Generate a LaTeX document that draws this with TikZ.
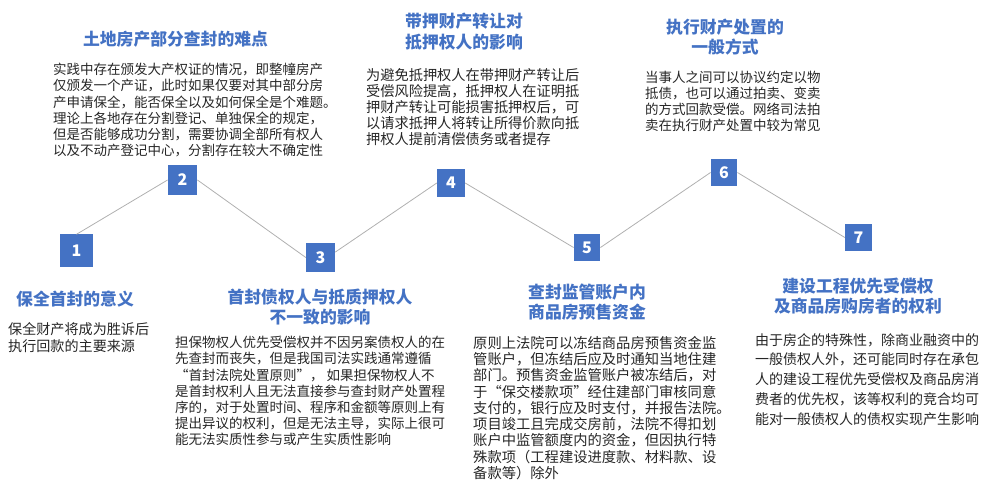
\documentclass[tikz,border=0pt]{standalone}
\usepackage{fontspec}
\newfontfamily\cjk{Noto Sans CJK SC}
\definecolor{boxblue}{HTML}{4472C4}
\definecolor{linegray}{HTML}{B0B0B0}
\definecolor{txtgray}{HTML}{262626}
\begin{document}
\begin{tikzpicture}[x=1pt,y=-1pt]
		\useasboundingbox (0,0) rectangle (990,494);
		\begin{scope}
		
		\tikzstyle{numbox}=[rectangle,
		fill=boxblue,
		text=white,
		inner sep=0pt,
		minimum size=28pt,
		font=\cjk\bfseries\fontsize{16}{16}\selectfont
		]
		\tikzstyle{title}=[align=center,
		text=boxblue,
		inner sep=0pt,
		font=\cjk\bfseries\fontsize{16.8}{20.5}\selectfont
		]
		\tikzstyle{desc}=[align=left,
		anchor=north west,
		text=txtgray,
		inner sep=0pt,
		font=\cjk\fontsize{13.5}{16.2}\selectfont
		]
		\tikzstyle{link}=[linegray, line width=0.8pt]
		
		\coordinate (p1) at (76.5, 251);
		\coordinate (p2) at (182.5, 180);
		\coordinate (p3) at (320.5, 257.5);
		\coordinate (p4) at (451, 183);
		\coordinate (p5) at (587, 247.5);
		\coordinate (p6) at (724, 172.5);
		\coordinate (p7) at (858.5, 237.5);
		
		\node[numbox, minimum size=33pt] (n1) at (p1) {1};
		\node[numbox, minimum size=29.5pt] (n2) at (p2) {2};
		\node[numbox, minimum size=29pt] (n3) at (p3) {3};
		\node[numbox] (n4) at (p4) {4};
		\node[numbox, minimum size=26.5pt] (n5) at (p5) {5};
		\node[numbox, minimum size=26.5pt] (n6) at (p6) {6};
		\node[numbox, minimum size=27pt] (n7) at (p7) {7};
		
		\draw[link] (n1.north) -- (n2.west);
		\draw[link] (n2.east) -- (n3.west);
		\draw[link] (n3.20) -- (n4.west);
		\draw[link] (n4.east) -- (n5.west);
		\draw[link] (n5.east) -- (n6.west);
		\draw[link] (n6.east) -- (n7.west);
		
		\node[title] (t1) at (75, 299) {保全首封的意义};
		\node[title] (t2) at (175.5, 39) {土地房产部分查封的难点};
		\node[title] (t3) at (320, 307) {首封债权人与抵质押权人\\不一致的影响};
		\node[title] (t4) at (464, 31.5) {带押财产转让对\\抵押权人的影响};
		\node[title] (t5) at (587, 302) {查封监管账户内\\商品房预售资金};
		\node[title] (t6) at (725, 37) {执行财产处置的\\一般方式};
		\node[title] (t7) at (858, 296) {建设工程优先受偿权\\及商品房购房者的权利};
		
		\node[desc, font=\cjk\fontsize{14.1}{17}\selectfont] (d1) at (8, 322) {保全财产将成为胜诉后\\
		执行回款的主要来源};
		\node[desc] (d2) at (53, 63) {实践中存在颁发大产权证的情况，即整幢房产\\
		仅颁发一个产证，此时如果仅要对其中部分房\\
		产申请保全，能否保全以及如何保全是个难题。\\
		理论上各地存在分割登记、单独保全的规定，\\
		但是否能够成功分割，需要协调全部所有权人\\
		以及不动产登记中心，分割存在较大不确定性};
		\node[desc] (d3) at (175, 336) {担保物权人优先受偿权并不因另案债权人的在\\
		先查封而丧失，但是我国司法实践通常遵循\\
		“首封法院处置原则”， 如果担保物权人不\\
		是首封权利人且无法直接参与查封财产处置程\\
		序的，对于处置时间、程序和金额等原则上有\\
		提出异议的权利，但是无法主导，实际上很可\\
		能无法实质性参与或产生实质性影响};
		\node[desc, font=\cjk\fontsize{14.2}{16}\selectfont] (d4) at (366, 68) {为避免抵押权人在带押财产转让后\\
		受偿风险提高，抵押权人在证明抵\\
		押财产转让可能损害抵押权后，可\\
		以请求抵押人将转让所得价款向抵\\
		押权人提前清偿债务或者提存};
		\node[desc, font=\cjk\fontsize{14.3}{16.25}\selectfont] (d5) at (473, 336) {原则上法院可以冻结商品房预售资金监\\
		管账户，但冻结后应及时通知当地住建\\
		部门。预售资金监管账户被冻结后，对\\
		于“保交楼款项”经住建部门审核同意\\
		支付的，银行应及时支付，并报告法院。\\
		项目竣工且完成交房前，法院不得扣划\\
		账户中监管额度内的资金，但因执行特\\
		殊款项（工程建设进度款、材料款、设\\
		备款等）除外};
		\node[desc, font=\cjk\fontsize{13.5}{16}\selectfont] (d6) at (645, 71) {当事人之间可以协议约定以物\\
		抵债，也可以通过拍卖、变卖\\
		的方式回款受偿。网络司法拍\\
		卖在执行财产处置中较为常见};
		\node[desc, font=\cjk\fontsize{14}{19.75}\selectfont] (d7) at (755, 333) {由于房企的特殊性，除商业融资中的\\
		一般债权人外，还可能同时存在承包\\
		人的建设工程优先受偿权及商品房消\\
		费者的优先权，该等权利的竞合均可\\
		能对一般债权人的债权实现产生影响};
		
		\end{scope}
\end{tikzpicture}
\end{document}
